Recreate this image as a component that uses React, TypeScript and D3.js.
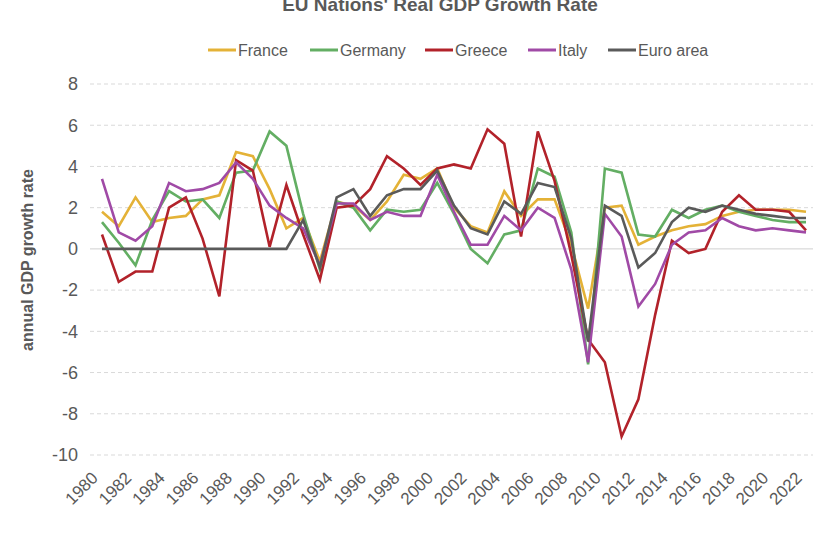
import React from "react";
import * as d3 from "d3";

const years: number[] = d3.range(1980, 2023);

const france: number[] = [1.8, 1.1, 2.5, 1.3, 1.5, 1.6, 2.4, 2.6, 4.7, 4.5, 2.9, 1.0, 1.5, -0.6, 2.3, 2.1, 1.4, 2.3, 3.6, 3.4, 3.9, 2.0, 1.1, 0.8, 2.8, 1.6, 2.4, 2.4, 0.2, -2.9, 2.0, 2.1, 0.2, 0.6, 0.9, 1.1, 1.2, 1.6, 1.8, 1.9, 1.9, 1.9, 1.8];
const germany: number[] = [1.3, 0.3, -0.8, 1.4, 2.8, 2.3, 2.4, 1.5, 3.7, 3.8, 5.7, 5.0, 1.7, -1.0, 2.3, 2.0, 0.9, 1.9, 1.8, 1.9, 3.2, 1.7, 0.0, -0.7, 0.7, 0.9, 3.9, 3.5, 0.8, -5.6, 3.9, 3.7, 0.7, 0.6, 1.9, 1.5, 1.9, 2.1, 1.8, 1.6, 1.4, 1.3, 1.3];
const greece: number[] = [0.7, -1.6, -1.1, -1.1, 2.0, 2.5, 0.5, -2.3, 4.3, 3.8, 0.1, 3.1, 0.7, -1.5, 2.0, 2.1, 2.9, 4.5, 3.9, 3.1, 3.9, 4.1, 3.9, 5.8, 5.1, 0.6, 5.7, 3.3, -0.3, -4.4, -5.5, -9.1, -7.3, -3.2, 0.4, -0.2, 0.0, 1.8, 2.6, 1.9, 1.9, 1.8, 0.9];
const italy: number[] = [3.4, 0.8, 0.4, 1.1, 3.2, 2.8, 2.9, 3.2, 4.2, 3.4, 2.1, 1.5, 1.0, -0.8, 2.2, 2.2, 1.4, 1.8, 1.6, 1.6, 3.6, 1.8, 0.2, 0.2, 1.6, 0.9, 2.0, 1.5, -1.0, -5.5, 1.7, 0.6, -2.8, -1.7, 0.2, 0.8, 0.9, 1.5, 1.1, 0.9, 1.0, 0.9, 0.8];
const euroArea: number[] = [0, 0, 0, 0, 0, 0, 0, 0, 0, 0, 0, 0, 1.4, -0.9, 2.5, 2.9, 1.6, 2.6, 2.9, 2.9, 3.8, 2.1, 1.0, 0.7, 2.3, 1.7, 3.2, 3.0, 0.5, -4.5, 2.1, 1.6, -0.9, -0.2, 1.3, 2.0, 1.8, 2.1, 1.9, 1.7, 1.6, 1.5, 1.5];

const seriesNames: string[] = ["France", "Germany", "Greece", "Italy", "Euro area"];
const seriesColors: string[] = ["#E4B237", "#63AE63", "#B2222A", "#A04AA6", "#5A5A5A"];
const seriesValues: number[][] = [france, germany, greece, italy, euroArea];

const yTicks: number[] = [-10, -8, -6, -4, -2, 0, 2, 4, 6, 8];
const xTickYears: number[] = d3.range(1980, 2023, 2);

const titleText = "EU Nations' Real GDP Growth Rate";
const yAxisTitle = "annual GDP growth rate";

const legendX: number[] = [208, 310, 425, 528, 608];

export default function App() {
  const W = 840;
  const H = 536;
  const x = d3.scaleLinear().domain([1980, 2022]).range([102, 806]);
  const y = d3.scaleLinear().domain([-10, 8]).range([455, 84]);
  const line = d3
    .line<number>()
    .x((_, i) => x(years[i]))
    .y((d) => y(d));
  const font = "'Liberation Sans', Arial, sans-serif";
  const textColor = "#595959";

  return (
    <svg width={W} height={H} style={{ position: "absolute", left: 0, top: 0, background: "#fff" }} fontFamily={font}>
      <rect width={W} height={H} fill="#fff" />
      <text x={440} y={11} textAnchor="middle" fontSize={19} fontWeight="bold" fill={textColor}>
        {titleText}
      </text>
      {seriesNames.map((name, i) => (
        <g key={name}>
          <line x1={legendX[i]} x2={legendX[i] + 28} y1={50} y2={50} stroke={seriesColors[i]} strokeWidth={3} />
          <text x={legendX[i] + 30} y={50} dy="0.35em" fontSize={16} fill={textColor}>
            {name}
          </text>
        </g>
      ))}
      {yTicks.map((t) => (
        <g key={t}>
          <line
            x1={90}
            x2={813}
            y1={y(t)}
            y2={y(t)}
            stroke={t === 0 ? "#d0d0d0" : "#d9d9d9"}
            strokeWidth={1}
            strokeDasharray={t === 0 ? undefined : "4,3"}
          />
          <text x={78} y={y(t)} dy="0.35em" textAnchor="end" fontSize={18} fill={textColor}>
            {t}
          </text>
        </g>
      ))}
      <text
        transform={`translate(33,260) rotate(-90)`}
        textAnchor="middle"
        fontSize={16}
        fontWeight="bold"
        fill={textColor}
      >
        {yAxisTitle}
      </text>
      {xTickYears.map((yr) => (
        <text
          key={yr}
          transform={`translate(${x(yr) - 3},479) rotate(-45)`}
          textAnchor="end"
          fontSize={17}
          fill={textColor}
        >
          {yr}
        </text>
      ))}
      {seriesValues.map((vals, i) => (
        <path key={seriesNames[i]} d={line(vals) || ""} fill="none" stroke={seriesColors[i]} strokeWidth={2.6} strokeLinejoin="miter" />
      ))}
    </svg>
  );
}
